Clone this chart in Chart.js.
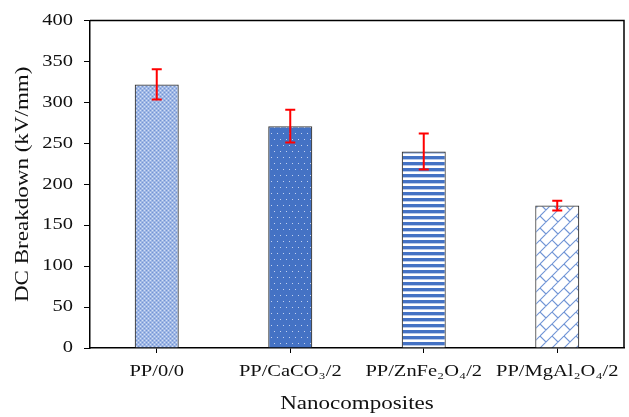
<!DOCTYPE html>
<html>
<head>
<meta charset="utf-8">
<script src="https://cdn.jsdelivr.net/npm/chart.js@4/dist/chart.umd.min.js"></script>
<style>
	body { margin: 0; background: #fff; }
	#wrap { width: 629px; height: 417px; }
</style>
</head>
<body>
<div id="wrap"><canvas id="dcChart" width="629" height="417"></canvas></div>
<script>
const categories = ["PP/0/0", "PP/CaCO\u2083/2", "PP/ZnFe\u2082O\u2084/2", "PP/MgAl\u2082O\u2084/2"];
const breakdown = [322, 271, 240, 174];
const errors = [18.5, 20, 22, 6];
const yTicks = [0, 50, 100, 150, 200, 250, 300, 350, 400];

const serif = "'Liberation Serif', 'Times New Roman', serif";

const canvas = document.getElementById("dcChart");
const ctx = canvas.getContext("2d");

// the original figure uses a wide Times face, so stretch text along its baseline
const TEXT_STRETCH = 1.28;
const plainFillText = ctx.fillText.bind(ctx);
ctx.fillText = function (text, x, y) {
	ctx.save();
	ctx.translate(x, y);
	ctx.scale(TEXT_STRETCH, 1);
	plainFillText(text, 0, 0);
	ctx.restore();
};

function makeTile(w, h, draw) {
	const c = document.createElement("canvas");
	c.width = w;
	c.height = h;
	const g = c.getContext("2d");
	draw(g, w, h);
	return ctx.createPattern(c, "repeat");
}

// fine check
const fineCheck = makeTile(4, 4, (g) => {
	g.fillStyle = "#9fb7e5";
	g.fillRect(0, 0, 4, 4);
	g.fillStyle = "#7394d4";
	g.fillRect(0, 0, 1, 1);
	g.fillRect(2, 2, 1, 1);
	g.fillStyle = "#d3dff4";
	g.fillRect(2, 0, 1, 1);
	g.fillRect(0, 2, 1, 1);
});

// staggered white dots on blue
const dotted = makeTile(6, 12, (g) => {
	g.fillStyle = "#4472c4";
	g.fillRect(0, 0, 6, 12);
	g.fillStyle = "#c3d2ef";
	g.fillRect(1, 1, 1, 1);
	g.fillRect(4, 7, 1, 1);
});

// horizontal stripes
const stripes = makeTile(6, 6, (g) => {
	g.fillStyle = "#ffffff";
	g.fillRect(0, 0, 6, 6);
	g.fillStyle = "#4472c4";
	g.fillRect(0, 0, 6, 3);
	g.fillStyle = "#b9cbeb";
	g.fillRect(0, 3, 6, 1);
});

// diagonal brick
const brick = makeTile(24, 24, (g, s) => {
	g.fillStyle = "#ffffff";
	g.fillRect(0, 0, s, s);
	g.strokeStyle = "#7195d6";
	g.lineWidth = 1.1;
	g.beginPath();
	for (let k = -2; k <= 6; k++) {
		const c = 12 * k;
		g.moveTo(c + 24, -24);
		g.lineTo(c - 24, 24);
	}
	for (let k = -2; k <= 5; k++) {
		const sLow = 12 * k;
		for (let m = -3; m <= 3; m++) {
			const d = 24 * m + (Math.abs(k) % 2 === 0 ? 0 : 12);
			g.moveTo((sLow + d) / 2, (sLow - d) / 2);
			g.lineTo((sLow + 12 + d) / 2, (sLow + 12 - d) / 2);
		}
	}
	g.stroke();
});

const errorBars = {
	id: "errorBars",
	afterDatasetsDraw(chart) {
		const c = chart.ctx;
		const yScale = chart.scales.y;
		const meta = chart.getDatasetMeta(0);
		c.save();
		c.strokeStyle = "#ff0000";
		c.lineWidth = 2;
		meta.data.forEach((bar, i) => {
			const x = bar.x;
			const top = yScale.getPixelForValue(breakdown[i] + errors[i]);
			const bottom = yScale.getPixelForValue(breakdown[i] - errors[i]);
			c.beginPath();
			c.moveTo(x, top);
			c.lineTo(x, bottom);
			c.moveTo(x - 5, top);
			c.lineTo(x + 5, top);
			c.moveTo(x - 5, bottom);
			c.lineTo(x + 5, bottom);
			c.stroke();
		});
		c.restore();
	},
	afterDraw(chart) {
		// top and right frame lines
		const a = chart.chartArea;
		const c = chart.ctx;
		c.save();
		c.strokeStyle = "#000";
		c.lineWidth = 1.5;
		c.beginPath();
		c.moveTo(a.left, a.top);
		c.lineTo(a.right, a.top);
		c.lineTo(a.right, a.bottom);
		c.stroke();
		c.restore();
	},
};

new Chart(canvas, {
	type: "bar",
	data: {
		labels: categories,
		datasets: [
			{
				data: breakdown,
				backgroundColor: [fineCheck, dotted, stripes, brick],
				borderColor: "#3a3a3a",
				borderWidth: 1.2,
				barPercentage: 0.33,
				categoryPercentage: 1,
			},
		],
	},
	options: {
		responsive: false,
		animation: false,
		layout: { padding: { top: 19, right: 5, left: 0, bottom: 0 } },
		plugins: {
			legend: { display: false },
			tooltip: { enabled: false },
		},
		scales: {
			x: {
				afterFit(scale) {
					scale.height = 69;
				},
				grid: {
					offset: false,
					drawOnChartArea: false,
					tickLength: 5,
					color: "#000",
				},
				border: { color: "#000", width: 1.5 },
				ticks: {
					color: "#111",
					padding: 9,
					maxRotation: 0,
					autoSkip: false,
					font: { family: serif, size: 16 },
				},
				title: {
					display: true,
					text: "Nanocomposites",
					color: "#111",
					padding: { top: 0, bottom: 2 },
					font: { family: serif, size: 18 },
				},
			},
			y: {
				min: 0,
				max: 400,
				afterFit(scale) {
					scale.width = 90;
				},
				afterBuildTicks(scale) {
					scale.ticks = yTicks.map((v) => ({ value: v }));
				},
				grid: {
					drawOnChartArea: false,
					tickLength: 6,
					color: "#000",
				},
				border: { color: "#000", width: 1.5 },
				ticks: {
					color: "#111",
					padding: 11,
					font: { family: serif, size: 16 },
				},
				title: {
					display: true,
					text: "DC Breakdown (kV/mm)",
					color: "#111",
					padding: { top: 12, bottom: 0 },
					font: { family: serif, size: 18 },
				},
			},
		},
	},
	plugins: [errorBars],
});
</script>
</body>
</html>
